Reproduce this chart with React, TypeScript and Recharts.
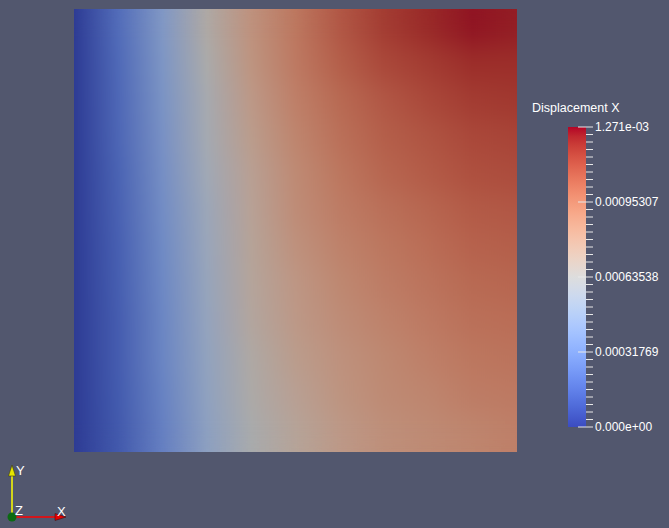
import React from "react";
import { BarChart, Bar, XAxis, YAxis, Cell } from "recharts";

// Displacement X field in rows from top to bottom.
// Each row holds values (×10⁻³) at these positions across the plate.
const MAX_DISP = 0.00127076;
const xStations = [0, 0.1, 0.2, 0.3, 0.4, 0.5, 0.6, 0.7, 0.8, 0.9, 1.0];

const dispRow01 = [0, 0.191, 0.407, 0.661, 0.826, 0.953, 1.068, 1.157, 1.207, 1.246, 1.233];
const dispRow02 = [0, 0.178, 0.394, 0.636, 0.813, 0.941, 1.042, 1.118, 1.157, 1.195, 1.195];
const dispRow03 = [0, 0.172, 0.381, 0.61, 0.788, 0.915, 1.004, 1.068, 1.118, 1.157, 1.169];
const dispRow04 = [0, 0.165, 0.369, 0.597, 0.763, 0.89, 0.979, 1.042, 1.08, 1.118, 1.131];
const dispRow05 = [0, 0.153, 0.356, 0.572, 0.737, 0.864, 0.953, 1.017, 1.055, 1.093, 1.106];
const dispRow06 = [0, 0.146, 0.343, 0.547, 0.724, 0.852, 0.928, 0.979, 1.017, 1.055, 1.068];
const dispRow07 = [0, 0.14, 0.33, 0.534, 0.712, 0.826, 0.902, 0.953, 0.991, 1.03, 1.042];
const dispRow08 = [0, 0.133, 0.318, 0.521, 0.699, 0.801, 0.877, 0.928, 0.966, 1.004, 1.017];
const dispRow09 = [0, 0.127, 0.311, 0.508, 0.686, 0.788, 0.852, 0.902, 0.941, 0.979, 0.991];
const dispRow10 = [0, 0.127, 0.305, 0.496, 0.661, 0.763, 0.826, 0.877, 0.915, 0.953, 0.966];
const dispRow11 = [0, 0.121, 0.292, 0.483, 0.648, 0.737, 0.813, 0.864, 0.89, 0.928, 0.941];
const dispRow12 = [0, 0.114, 0.28, 0.47, 0.623, 0.712, 0.788, 0.839, 0.864, 0.89, 0.915];

const dispRows = [
  dispRow01, dispRow02, dispRow03, dispRow04, dispRow05, dispRow06,
  dispRow07, dispRow08, dispRow09, dispRow10, dispRow11, dispRow12,
];

const colorbarLabels = ["0.000e+00", "0.00031769", "0.00063538", "0.00095307", "1.271e-03"];
const colorbarTicks = Array.from({ length: 41 }, (_, i) => (MAX_DISP * i) / 40);

// Cool to Warm (Moreland) lookup table, 33 samples
const coolWarm = [
  [59, 76, 192], [68, 90, 204], [77, 104, 215], [87, 117, 225], [98, 130, 234],
  [108, 142, 241], [119, 154, 247], [130, 165, 251], [141, 176, 254], [152, 185, 255],
  [163, 194, 255], [174, 201, 253], [184, 208, 249], [194, 213, 244], [204, 217, 238],
  [213, 219, 230], [221, 221, 221], [229, 216, 209], [236, 211, 197], [241, 204, 185],
  [245, 196, 173], [247, 187, 160], [247, 177, 148], [247, 166, 135], [244, 154, 123],
  [241, 141, 111], [236, 127, 99], [229, 112, 88], [222, 96, 77], [213, 80, 66],
  [203, 62, 56], [192, 40, 47], [180, 4, 38],
];

const SHADE = 0.77;

function colorAt(t: number, shade = 1) {
  const c = Math.max(0, Math.min(1, t)) * (coolWarm.length - 1);
  const i = Math.min(coolWarm.length - 2, Math.floor(c));
  const f = c - i;
  const a = coolWarm[i];
  const b = coolWarm[i + 1];
  const ch = (k: number) => Math.round((a[k] + (b[k] - a[k]) * f) * shade);
  return `rgb(${ch(0)},${ch(1)},${ch(2)})`;
}

const heatData = dispRows.map((_, i) => ({ row: `r${i + 1}`, span: 1 }));
const colorbarData = [{ name: "Displacement X", value: MAX_DISP }];

const FONT = "'Liberation Sans', Arial, sans-serif";

const ColorbarTick = (props: any) => {
  const { x, y, index } = props;
  const major = index % 10 === 0;
  return (
    <g>
      <line
        x1={major ? x - 8 : x}
        x2={x + 7}
        y1={y}
        y2={y}
        stroke="#e8e8e8"
        strokeWidth={1}
      />
      {major && (
        <text x={x + 9} y={y} dy="0.35em" fill="#ffffff" fontSize={12} fontFamily={FONT}>
          {colorbarLabels[index / 10]}
        </text>
      )}
    </g>
  );
};

export default function App() {
  return (
    <div
      style={{
        position: "absolute",
        left: 0,
        top: 0,
        width: 669,
        height: 528,
        background: "#52576e",
        overflow: "hidden",
      }}
    >
      <style>{`
        .heat-bars { filter: url(#vsmooth); }
        .heat-bars path { shape-rendering: crispEdges; }
      `}</style>

      <div style={{ position: "absolute", left: 0, top: 0 }}>
        <BarChart
          width={669}
          height={528}
          data={heatData}
          layout="vertical"
          margin={{ top: 9, right: 152, bottom: 77, left: 74 }}
          barCategoryGap={0}
        >
          <defs>
            <filter
              id="vsmooth"
              x="0"
              y="0"
              width="1"
              height="1"
              colorInterpolationFilters="sRGB"
            >
              <feGaussianBlur stdDeviation="0 13" />
              <feComponentTransfer>
                <feFuncA type="linear" slope="60" intercept="0" />
              </feComponentTransfer>
            </filter>
            {dispRows.map((row, i) => (
              <linearGradient key={i} id={`row-${i}`} x1="0" y1="0" x2="1" y2="0">
                {row.map((v, j) => (
                  <stop
                    key={j}
                    offset={xStations[j]}
                    stopColor={colorAt((v * 1e-3) / MAX_DISP, SHADE)}
                  />
                ))}
              </linearGradient>
            ))}
          </defs>
          <XAxis type="number" domain={[0, 1]} hide />
          <YAxis type="category" dataKey="row" hide />
          <Bar dataKey="span" className="heat-bars" isAnimationActive={false}>
            {heatData.map((_, i) => (
              <Cell key={i} fill={`url(#row-${i})`} />
            ))}
          </Bar>
        </BarChart>
      </div>

      <div
        style={{
          position: "absolute",
          left: 532,
          top: 101,
          color: "#ffffff",
          fontFamily: FONT,
          fontSize: 12.5,
          lineHeight: "14px",
          whiteSpace: "nowrap",
        }}
      >
        Displacement X
      </div>

      <div style={{ position: "absolute", left: 520, top: 95 }}>
        <BarChart
          width={149}
          height={345}
          data={colorbarData}
          margin={{ top: 32, right: 3, bottom: 13, left: 48 }}
          barCategoryGap={0}
        >
          <defs>
            <linearGradient id="cbgrad" x1="0" y1="1" x2="0" y2="0">
              {coolWarm.map((c, i) => (
                <stop
                  key={i}
                  offset={i / (coolWarm.length - 1)}
                  stopColor={`rgb(${c[0]},${c[1]},${c[2]})`}
                />
              ))}
            </linearGradient>
          </defs>
          <XAxis dataKey="name" hide />
          <YAxis
            type="number"
            orientation="right"
            domain={[0, MAX_DISP]}
            ticks={colorbarTicks}
            interval={0}
            width={80}
            axisLine={false}
            tickLine={false}
            tickSize={0}
            tickMargin={0}
            tick={<ColorbarTick />}
          />
          <Bar dataKey="value" fill="url(#cbgrad)" isAnimationActive={false} />
        </BarChart>
      </div>

      <svg
        width={669}
        height={528}
        style={{ position: "absolute", left: 0, top: 0, pointerEvents: "none" }}
      >
        <line x1={12} y1={517} x2={12} y2={475} stroke="#ffff00" strokeWidth={1.5} />
        <polygon points="12,465 8.5,476 15.5,476" fill="#e6e600" stroke="#3a3a10" strokeWidth={0.6} />
        <line x1={12} y1={517} x2={56} y2={517} stroke="#ff0000" strokeWidth={1.5} />
        <polygon points="66,517 55,513.5 55,520.5" fill="#e60000" stroke="#401010" strokeWidth={0.6} />
        <circle cx={12} cy={517} r={4.5} fill="#0b6a12" />
        <text x={16} y={475} fill="#ffffff" fontSize={13} fontFamily={FONT}>Y</text>
        <text x={15} y={515} fill="#ffffff" fontSize={13} fontFamily={FONT}>Z</text>
        <text x={57} y={516} fill="#ffffff" fontSize={13} fontFamily={FONT}>X</text>
      </svg>
    </div>
  );
}
